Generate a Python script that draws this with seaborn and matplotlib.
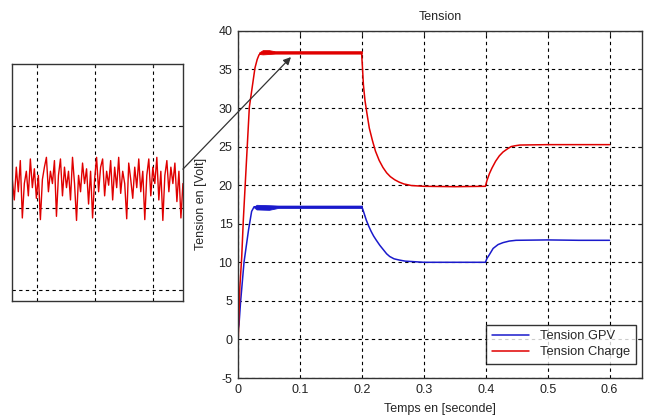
import numpy as np
import pandas as pd
import matplotlib
matplotlib.use("Agg")
import matplotlib.pyplot as plt
from matplotlib.patches import ConnectionPatch
import seaborn as sns

# ---------------- data ----------------
t_charge = [0, 0.0005, 0.003, 0.006, 0.0086, 0.0183, 0.0274, 0.031, 0.034, 0.038, 0.05,
            0.08, 0.12, 0.16, 0.1995, 0.2008, 0.2025, 0.205, 0.208, 0.212, 0.217, 0.222,
            0.228, 0.234, 0.240, 0.246, 0.253, 0.260, 0.268, 0.28, 0.3, 0.35, 0.3995,
            0.402, 0.406, 0.41, 0.416, 0.422, 0.428, 0.435, 0.441, 0.447, 0.455, 0.5,
            0.55, 0.6]
v_charge = [0, 0.3, 6.8, 10.7, 15.5, 30.1, 35.2, 36.3, 36.9, 37.1, 37.2,
            37.2, 37.2, 37.2, 37.2, 35.5, 33.0, 31.0, 29.4, 27.4, 25.8, 24.4,
            23.2, 22.3, 21.6, 21.1, 20.7, 20.4, 20.15, 19.95, 19.85, 19.8, 19.85,
            20.6, 21.5, 22.2, 23.1, 23.8, 24.3, 24.7, 25.0, 25.1, 25.2, 25.25,
            25.25, 25.25]

t_gpv = [0, 0.0016, 0.004, 0.0097, 0.017, 0.022, 0.026, 0.04, 0.08, 0.12, 0.16,
         0.2, 0.203, 0.207, 0.211, 0.215, 0.219, 0.223, 0.229, 0.235, 0.240, 0.245,
         0.252, 0.26, 0.27, 0.28, 0.3, 0.35, 0.3995, 0.402, 0.406, 0.412, 0.42, 0.428,
         0.438, 0.449, 0.5, 0.55, 0.6]
v_gpv = [1.2, 1.9, 4.7, 10.0, 14.2, 16.6, 17.2, 17.2, 17.2, 17.2, 17.2,
         17.2, 16.5, 15.5, 14.7, 14.0, 13.4, 12.9, 12.2, 11.6, 11.1, 10.75,
         10.45, 10.3, 10.15, 10.1, 10.0, 10.0, 10.0, 10.5, 11.0, 11.8, 12.3, 12.55,
         12.75, 12.85, 12.9, 12.85, 12.85]

# ripple envelopes on the plateaus
band_charge_t = [0.034, 0.04, 0.05, 0.06, 0.2]
band_charge_hi = [37.2, 37.5, 37.5, 37.35, 37.35]
band_charge_lo = [37.0, 36.95, 37.0, 37.05, 37.05]
band_gpv_t = [0.026, 0.03, 0.05, 0.065, 0.2]
band_gpv_hi = [17.2, 17.45, 17.4, 17.35, 17.35]
band_gpv_lo = [17.1, 16.85, 16.8, 17.05, 17.05]

# zoomed ripple of Tension Charge (inset)
ripple = [37.035, 37.010, 37.050, 37.020, 37.058, 36.988, 37.030, 37.045, 37.015, 37.060,
          37.025, 37.048, 37.012, 37.040, 36.986, 37.035, 37.050, 37.062, 37.020, 37.045,
          37.030, 37.058, 36.990, 37.040, 37.060, 37.015, 37.050, 37.025, 37.045, 37.010,
          37.062, 37.030, 36.985, 37.040, 37.020, 37.055, 37.030, 37.048, 37.005, 37.045,
          36.988, 37.035, 37.062, 37.020, 37.050, 37.060, 37.015, 37.045, 37.028, 37.058,
          37.010, 37.050, 37.025, 37.062, 37.018, 37.045, 37.030, 36.987, 37.055, 37.035,
          37.012, 37.050, 37.025, 37.060, 37.020, 37.045, 36.986, 37.040, 37.060, 37.015,
          37.050, 37.030, 37.062, 37.010, 37.045, 36.985, 37.040, 37.058, 37.020, 37.050,
          37.030, 37.055, 37.008, 37.045, 36.988, 37.030]
ripple_t = np.linspace(0.565, 3.52, len(ripple))

x_ticks = [0, 0.1, 0.2, 0.3, 0.4, 0.5, 0.6]
x_ticklabels = ["0", "0.1", "0.2", "0.3", "0.4", "0.5", "0.6"]
y_ticks = [-5, 0, 5, 10, 15, 20, 25, 30, 35, 40]

BLUE = "#1a1acc"
RED = "#e00000"

# ---------------- style ----------------
sns.set_style("white")
plt.rcParams["font.family"] = ["Liberation Sans", "DejaVu Sans"]
plt.rcParams["font.size"] = 9
plt.rcParams["axes.unicode_minus"] = False

fig = plt.figure(figsize=(6.45, 4.17), dpi=100)
ax = fig.add_axes([0.369, 0.0935, 0.626, 0.8325])
axi = fig.add_axes([0.0186, 0.278, 0.265, 0.568])

grid_kw = dict(color="black", linestyle=(0, (3, 3)), linewidth=0.8)

# main axes
df_gpv = pd.DataFrame({"t": t_gpv, "v": v_gpv})
df_ch = pd.DataFrame({"t": t_charge, "v": v_charge})
sns.lineplot(data=df_gpv, x="t", y="v", ax=ax, color=BLUE, lw=1.1,
             estimator=None, sort=False, label="Tension GPV")
sns.lineplot(data=df_ch, x="t", y="v", ax=ax, color=RED, lw=1.1,
             estimator=None, sort=False, label="Tension Charge")
ax.fill_between(band_gpv_t, band_gpv_lo, band_gpv_hi, color=BLUE, lw=0.6)
ax.fill_between(band_charge_t, band_charge_lo, band_charge_hi, color=RED, lw=0.6)

ax.set_xlim(0, 0.652)
ax.set_ylim(-5, 40)
ax.set_xticks(x_ticks)
ax.set_xticklabels(x_ticklabels)
ax.set_yticks(y_ticks)
ax.set_yticklabels([str(v) for v in y_ticks])
ax.grid(True, **grid_kw)
ax.set_axisbelow(True)
ax.tick_params(direction="in", length=3, top=True, right=True, labelsize=9,
               colors="#222222", pad=4)
for s in ax.spines.values():
    s.set_color("#333333")
    s.set_linewidth(1.0)
ax.set_title("Tension", fontsize=9, pad=8)
ax.set_xlabel("Temps en [seconde]", fontsize=9, labelpad=5)
ax.set_ylabel("Tension en [Volt]", fontsize=9, labelpad=8)

leg = ax.legend(loc="lower right", fontsize=9.3, frameon=True, fancybox=False,
                borderaxespad=0.0, handlelength=2.9, labelspacing=0.3,
                borderpad=0.45, bbox_to_anchor=(0.985, 0.04))
leg.get_frame().set_edgecolor("black")
leg.get_frame().set_linewidth(1.0)

# inset
df_rip = pd.DataFrame({"t": ripple_t, "v": ripple})
sns.lineplot(data=df_rip, x="t", y="v", ax=axi, color=RED, lw=1.0,
             estimator=None, sort=False)
axi.set_xlim(0.56, 3.52)
axi.set_ylim(36.8866, 37.1756)
axi.set_xticks([1, 2, 3])
axi.set_yticks([36.9, 37.0, 37.1])
axi.set_xticklabels([])
axi.set_yticklabels([])
axi.set_xlabel("")
axi.set_ylabel("")
axi.grid(True, **grid_kw)
axi.tick_params(direction="in", length=2, top=True, right=True)
for s in axi.spines.values():
    s.set_color("#333333")
    s.set_linewidth(1.0)

# arrow from inset to main plot
con = ConnectionPatch(xyA=(1.0, 0.557), coordsA=axi.transAxes,
                      xyB=(0.0855, 36.6), coordsB=ax.transData,
                      arrowstyle="-|>", mutation_scale=11, color="#333333", lw=0.9)
fig.add_artist(con)

fig.savefig("out.png", dpi=100)
